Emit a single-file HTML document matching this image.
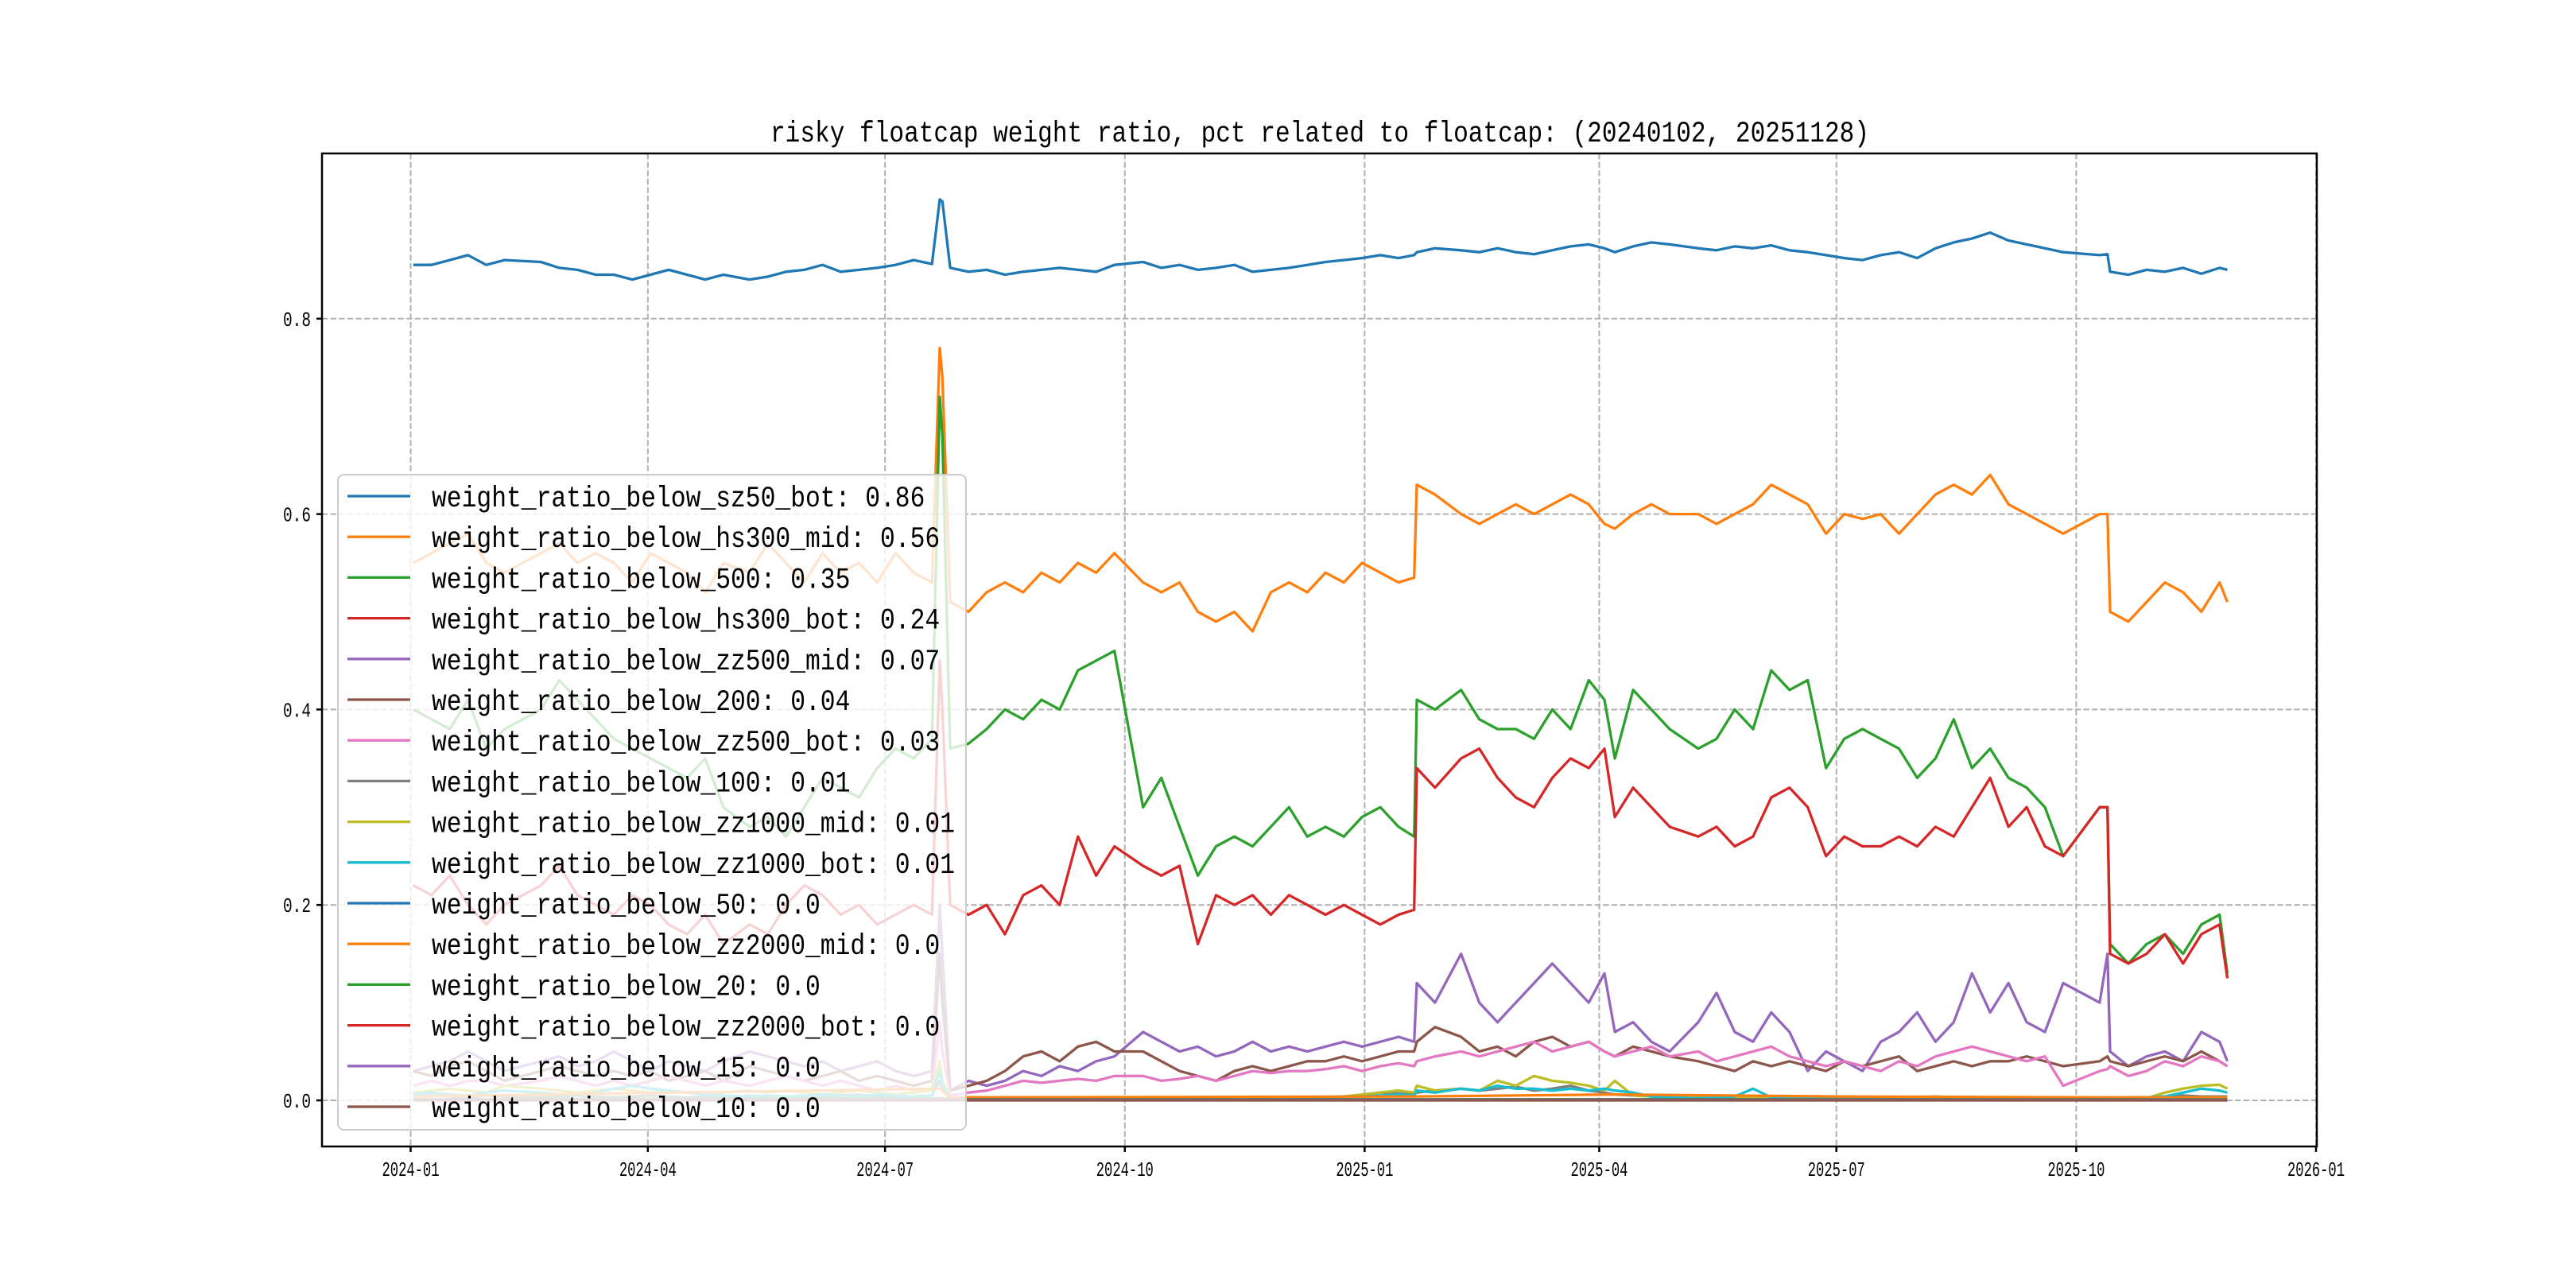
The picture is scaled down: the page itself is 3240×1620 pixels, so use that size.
<!DOCTYPE html>
<html><head><meta charset="utf-8"><style>
html,body{margin:0;padding:0;background:#fff;}
svg{display:block;}
text{font-family:"Liberation Mono","Noto Sans CJK SC",monospace;fill:#000;}
</style></head>
<body>
<svg id="chart" width="3240" height="1620" viewBox="0 0 3240 1620" xmlns="http://www.w3.org/2000/svg">
<rect width="3240" height="1620" fill="#fff"/>
<text x="1660" y="178" font-size="37" text-anchor="middle" textLength="1382" lengthAdjust="spacingAndGlyphs">risky floatcap weight ratio, pct related to floatcap: (20240102, 20251128)</text>
<g id="grid"></g><g id="series"></g><g id="axes"></g><g id="legend"></g>
</svg>
<script>
const dates=["2024-01-02","2024-01-09","2024-01-16","2024-01-23","2024-01-30","2024-02-06","2024-02-20","2024-02-27","2024-03-05","2024-03-12",
"2024-03-19","2024-03-26","2024-04-02","2024-04-09","2024-04-16","2024-04-23","2024-04-30","2024-05-10","2024-05-17","2024-05-24",
"2024-05-31","2024-06-07","2024-06-14","2024-06-21","2024-06-28","2024-07-05","2024-07-12","2024-07-19","2024-07-22","2024-07-23",
"2024-07-26","2024-08-02","2024-08-09","2024-08-16","2024-08-23","2024-08-30","2024-09-06","2024-09-13","2024-09-20","2024-09-27",
"2024-10-08","2024-10-15","2024-10-22","2024-10-29","2024-11-05","2024-11-12","2024-11-19","2024-11-26","2024-12-03","2024-12-10",
"2024-12-17","2024-12-24","2024-12-31","2025-01-07","2025-01-14","2025-01-20","2025-01-21","2025-01-28","2025-02-07","2025-02-14",
"2025-02-21","2025-02-28","2025-03-07","2025-03-14","2025-03-21","2025-03-28","2025-04-03","2025-04-07","2025-04-14","2025-04-21",
"2025-04-28","2025-05-09","2025-05-16","2025-05-23","2025-05-30","2025-06-06","2025-06-13","2025-06-20","2025-06-27","2025-07-04",
"2025-07-11","2025-07-18","2025-07-25","2025-08-01","2025-08-08","2025-08-15","2025-08-22","2025-08-29","2025-09-05","2025-09-12",
"2025-09-19","2025-09-26","2025-10-10","2025-10-13","2025-10-14","2025-10-21","2025-10-28","2025-11-04","2025-11-11","2025-11-18",
"2025-11-25","2025-11-28"];
const sz50Bot=[.855,.855,.86,.865,.855,.86,.858,.852,.85,.845,.845,.84,.845,.85,.845,.84,.845,.84,.843,.848,.85,.855,.848,.85,.852,.855,.86,.856,.922,.92,
.852,.848,.85,.845,.848,.85,.852,.85,.848,.855,.858,.852,.855,.85,.852,.855,.848,.85,.852,.855,.858,.86,.862,.865,.862,.865,.868,.872,.87,.868,
.872,.868,.866,.87,.874,.876,.872,.868,.874,.878,.876,.872,.87,.874,.872,.875,.87,.868,.865,.862,.86,.865,.868,.862,.872,.878,.882,.888,.88,.876,
.872,.868,.865,.866,.848,.845,.85,.848,.852,.846,.852,.85];
const hs300Mid=[.55,.56,.57,.58,.55,.54,.56,.57,.55,.56,.55,.53,.56,.55,.54,.52,.55,.54,.57,.55,.53,.56,.54,.55,.53,.56,.54,.53,.77,.74,
.51,.50,.52,.53,.52,.54,.53,.55,.54,.56,.53,.52,.53,.50,.49,.50,.48,.52,.53,.52,.54,.53,.55,.54,.53,.535,.63,.62,.60,.59,
.60,.61,.60,.61,.62,.61,.59,.585,.60,.61,.60,.60,.59,.60,.61,.63,.62,.61,.58,.60,.595,.60,.58,.60,.62,.63,.62,.64,.61,.60,
.59,.58,.60,.60,.50,.49,.51,.53,.52,.50,.53,.51];
const below500=[.40,.39,.38,.41,.36,.38,.40,.43,.41,.39,.37,.36,.35,.34,.33,.35,.30,.28,.29,.27,.30,.33,.32,.31,.34,.36,.35,.37,.72,.68,
.36,.365,.38,.40,.39,.41,.40,.44,.45,.46,.30,.33,.28,.23,.26,.27,.26,.28,.30,.27,.28,.27,.29,.30,.28,.27,.41,.40,.42,.39,
.38,.38,.37,.40,.38,.43,.41,.35,.42,.40,.38,.36,.37,.40,.38,.44,.42,.43,.34,.37,.38,.37,.36,.33,.35,.39,.34,.36,.33,.32,
.30,.25,.30,.30,.16,.14,.16,.17,.15,.18,.19,.13];
const hs300Bot=[.22,.21,.23,.20,.18,.20,.22,.24,.21,.20,.19,.21,.20,.18,.17,.19,.16,.18,.17,.20,.22,.21,.19,.20,.18,.19,.20,.19,.45,.40,
.20,.19,.20,.17,.21,.22,.20,.27,.23,.26,.24,.23,.24,.16,.21,.20,.21,.19,.21,.20,.19,.20,.19,.18,.19,.195,.34,.32,.35,.36,
.33,.31,.30,.33,.35,.34,.36,.29,.32,.30,.28,.27,.28,.26,.27,.31,.32,.30,.25,.27,.26,.26,.27,.26,.28,.27,.30,.33,.28,.30,
.26,.25,.30,.30,.15,.14,.15,.17,.14,.17,.18,.125];
const zz500Mid=[.03,.035,.04,.05,.04,.03,.04,.045,.035,.04,.05,.04,.03,.04,.035,.03,.04,.05,.045,.04,.035,.04,.03,.035,.04,.03,.025,.03,.20,.15,
.01,.02,.015,.02,.03,.025,.035,.03,.04,.045,.07,.06,.05,.055,.045,.05,.06,.05,.055,.05,.055,.06,.055,.06,.065,.06,.12,.10,.15,.10,
.08,.10,.12,.14,.12,.10,.13,.07,.08,.06,.05,.08,.11,.07,.06,.09,.07,.03,.05,.04,.03,.06,.07,.09,.06,.08,.13,.09,.12,.08,
.07,.12,.10,.15,.05,.035,.045,.05,.04,.07,.06,.04];
const below200=[.03,.025,.035,.04,.03,.02,.03,.035,.03,.025,.03,.025,.03,.02,.025,.03,.02,.035,.03,.025,.02,.025,.03,.02,.025,.02,.015,.02,.15,.10,
.01,.015,.02,.03,.045,.05,.04,.055,.06,.05,.05,.04,.03,.025,.02,.03,.035,.03,.035,.04,.04,.045,.04,.045,.05,.05,.06,.075,.065,.05,
.055,.045,.06,.065,.055,.06,.05,.045,.055,.05,.045,.04,.035,.03,.04,.035,.04,.035,.03,.04,.035,.04,.045,.03,.035,.04,.035,.04,.04,.045,
.04,.035,.04,.045,.04,.035,.04,.045,.04,.05,.04,.035];
const zz500Bot=[.015,.02,.015,.02,.02,.015,.02,.025,.02,.015,.02,.015,.02,.025,.02,.015,.02,.015,.02,.025,.02,.015,.02,.015,.01,.015,.01,.01,.08,.05,
.005,.008,.01,.015,.02,.018,.02,.022,.02,.025,.025,.02,.022,.025,.02,.025,.03,.028,.03,.03,.032,.035,.03,.035,.038,.035,.04,.045,.05,.045,
.05,.055,.06,.05,.055,.06,.05,.045,.05,.055,.045,.05,.04,.045,.05,.055,.045,.04,.035,.04,.035,.03,.04,.035,.045,.05,.055,.05,.045,.04,
.045,.015,.03,.032,.035,.025,.03,.04,.035,.045,.04,.035];
const below100=[.004,.005,.004,.003,.005,.004,.003,.004,.005,.004,.003,.004,.005,.004,.003,.004,.003,.005,.004,.003,.004,.003,.005,.006,.004,.003,.004,.005,.02,.01,
.002,.002,.002,.002,.003,.002,.003,.002,.003,.002,.002,.003,.002,.002,.003,.002,.002,.003,.002,.003,.003,.004,.005,.008,.007,.006,.008,.01,.012,.01,
.012,.014,.01,.012,.015,.01,.008,.006,.005,.004,.003,.002,.002,.002,.002,.003,.002,.002,.002,.002,.002,.002,.002,.002,.002,.002,.002,.002,.002,.002,
.002,.002,.002,.002,.002,.003,.003,.004,.005,.004,.004,.004];
const zz1000Mid=[.008,.01,.012,.01,.008,.015,.012,.01,.008,.01,.012,.01,.008,.01,.008,.006,.008,.01,.008,.01,.008,.006,.008,.01,.008,.006,.008,.01,.04,.02,
.003,.002,.002,.003,.002,.002,.003,.002,.002,.003,.002,.003,.002,.002,.003,.002,.002,.003,.002,.003,.003,.004,.006,.008,.01,.008,.015,.01,.012,.01,
.02,.015,.025,.02,.018,.015,.01,.02,.005,.004,.002,.003,.002,.003,.002,.002,.003,.002,.002,.002,.002,.002,.002,.003,.002,.002,.003,.002,.002,.002,
.003,.002,.002,.002,.002,.003,.002,.008,.012,.015,.016,.012];
const zz1000Bot=[.006,.008,.006,.005,.008,.01,.008,.006,.005,.008,.012,.015,.012,.01,.008,.006,.005,.004,.005,.004,.005,.006,.005,.004,.006,.005,.004,.005,.03,.015,
.002,.002,.002,.002,.003,.002,.002,.003,.002,.002,.002,.002,.003,.002,.002,.003,.002,.002,.002,.002,.003,.004,.004,.005,.006,.005,.01,.008,.012,.01,
.015,.012,.012,.01,.012,.01,.012,.01,.008,.004,.003,.002,.003,.004,.012,.003,.002,.002,.003,.002,.002,.002,.002,.003,.004,.003,.002,.002,.002,.002,
.002,.002,.002,.002,.002,.002,.003,.004,.008,.012,.01,.008];
const flatDates=["2024-01-02","2024-07-22","2024-07-26","2025-11-28"];
const below50=[.001,.002,.001,.001];
const zz2000MidDates=["2024-01-02","2024-07-22","2024-07-26","2025-01-20","2025-04-07","2025-07-01","2025-10-14","2025-11-28"];
const zz2000Mid=[.004,.012,.003,.004,.006,.004,.003,.003];
const below20=[.001,.002,.001,.001];
const zz2000Bot=[.0005,.001,.0005,.0005];
const below15=[.0005,.001,.0005,.0005];
const below10=[0,0,0,0];
const yTicks=[0.0,0.2,0.4,0.6,0.8];
const yTickLabels=["0.0","0.2","0.4","0.6","0.8"];
const xTicks=["2024-01-01","2024-04-01","2024-07-01","2024-10-01","2025-01-01","2025-04-01","2025-07-01","2025-10-01","2026-01-01"];
const xTickLabels=["2024-01","2024-04","2024-07","2024-10","2025-01","2025-04","2025-07","2025-10","2026-01"];
const seriesNames=["weight_ratio_below_sz50_bot: 0.86","weight_ratio_below_hs300_mid: 0.56","weight_ratio_below_500: 0.35","weight_ratio_below_hs300_bot: 0.24","weight_ratio_below_zz500_mid: 0.07","weight_ratio_below_200: 0.04","weight_ratio_below_zz500_bot: 0.03","weight_ratio_below_100: 0.01","weight_ratio_below_zz1000_mid: 0.01","weight_ratio_below_zz1000_bot: 0.01","weight_ratio_below_50: 0.0","weight_ratio_below_zz2000_mid: 0.0","weight_ratio_below_20: 0.0","weight_ratio_below_zz2000_bot: 0.0","weight_ratio_below_15: 0.0","weight_ratio_below_10: 0.0"];

const NS="http://www.w3.org/2000/svg";
const L=405,R=2914,T=193,B=1442;
const d0=Date.UTC(2024,0,1), pxPerDay=2396.5/731;
function dayOf(s){const p=s.split('-');return (Date.UTC(+p[0],+p[1]-1,+p[2])-d0)/86400000;}
function xs(s){return 516.5+dayOf(s)*pxPerDay;}
function ys(v){return 1384-v*1229;}
function mk(tag,attrs,parent){const e=document.createElementNS(NS,tag);for(const k in attrs)e.setAttribute(k,attrs[k]);parent.appendChild(e);return e;}
const grid=document.getElementById('grid'),axes=document.getElementById('axes'),ser=document.getElementById('series'),leg=document.getElementById('legend');
const colors=["#1f77b4","#ff7f0e","#2ca02c","#d62728","#9467bd","#8c564b","#e377c2","#7f7f7f","#bcbd22","#17becf","#1f77b4","#ff7f0e","#2ca02c","#d62728","#9467bd","#8c564b"];
const allSeries=[[dates,sz50Bot],[dates,hs300Mid],[dates,below500],[dates,hs300Bot],[dates,zz500Mid],[dates,below200],[dates,zz500Bot],[dates,below100],[dates,zz1000Mid],[dates,zz1000Bot],[flatDates,below50],[zz2000MidDates,zz2000Mid],[flatDates,below20],[flatDates,zz2000Bot],[flatDates,below15],[flatDates,below10]];
const seriesKeys=["sz50-bot","hs300-mid","below-500","hs300-bot","zz500-mid","below-200","zz500-bot","below-100","zz1000-mid","zz1000-bot","below-50","zz2000-mid","below-20","zz2000-bot","below-15","below-10"];

yTicks.forEach((v,i)=>{
  const y=ys(v);
  const g=mk('line',{x1:L,x2:R,y1:y,y2:y,stroke:'#b0b0b0','stroke-width':2,'stroke-dasharray':'7.4,3.2'},grid);
  
  
  const t=mk('line',{x1:L-7,x2:L,y1:y,y2:y,stroke:'#000','stroke-width':2.5},axes);
  
  
  const lb=mk('text',{x:L-14,y:y+9,'font-size':26,'text-anchor':'end',textLength:35,lengthAdjust:'spacingAndGlyphs'},axes);
  lb.textContent=yTickLabels[i];
  
  
});
xTicks.forEach((d,i)=>{
  const x=xs(d);
  const g=mk('line',{x1:x,x2:x,y1:T,y2:B,stroke:'#b0b0b0','stroke-width':2,'stroke-dasharray':'7.4,3.2'},grid);
  
  
  const t=mk('line',{x1:x,x2:x,y1:B,y2:B+7,stroke:'#000','stroke-width':2.5},axes);
  
  
  const lb=mk('text',{x:x,y:B+37,'font-size':26,'text-anchor':'middle',textLength:72,lengthAdjust:'spacingAndGlyphs'},axes);
  lb.textContent=xTickLabels[i];
  
  
});
const frame=mk('rect',{x:L,y:T,width:R-L,height:B-T,fill:'none',stroke:'#000','stroke-width':2.5},axes);



allSeries.forEach((s,i)=>{
  const pts=s[0].map((d,j)=>xs(d).toFixed(1)+','+ys(s[1][j]).toFixed(1)).join(' ');
  const p=mk('polyline',{points:pts,fill:'none',stroke:colors[i],'stroke-width':3.3,'stroke-linejoin':'round'},ser);
  
  
});

const box=mk('rect',{x:425,y:597,width:790,height:824,rx:8,fill:'#fff','fill-opacity':0.8,stroke:'#cccccc','stroke-width':2},leg);


seriesNames.forEach((n,i)=>{
  const y=624+i*51.2;
  const g=mk('g',{},leg);
  
  
  mk('line',{x1:437,x2:516,y1:y,y2:y,stroke:colors[i],'stroke-width':3.3},g);
  const t=mk('text',{x:543,y:y+13,'font-size':37,textLength:(n.length*18.8).toFixed(1),lengthAdjust:'spacingAndGlyphs'},g);
  t.textContent=n;
});
</script>
</body></html>
